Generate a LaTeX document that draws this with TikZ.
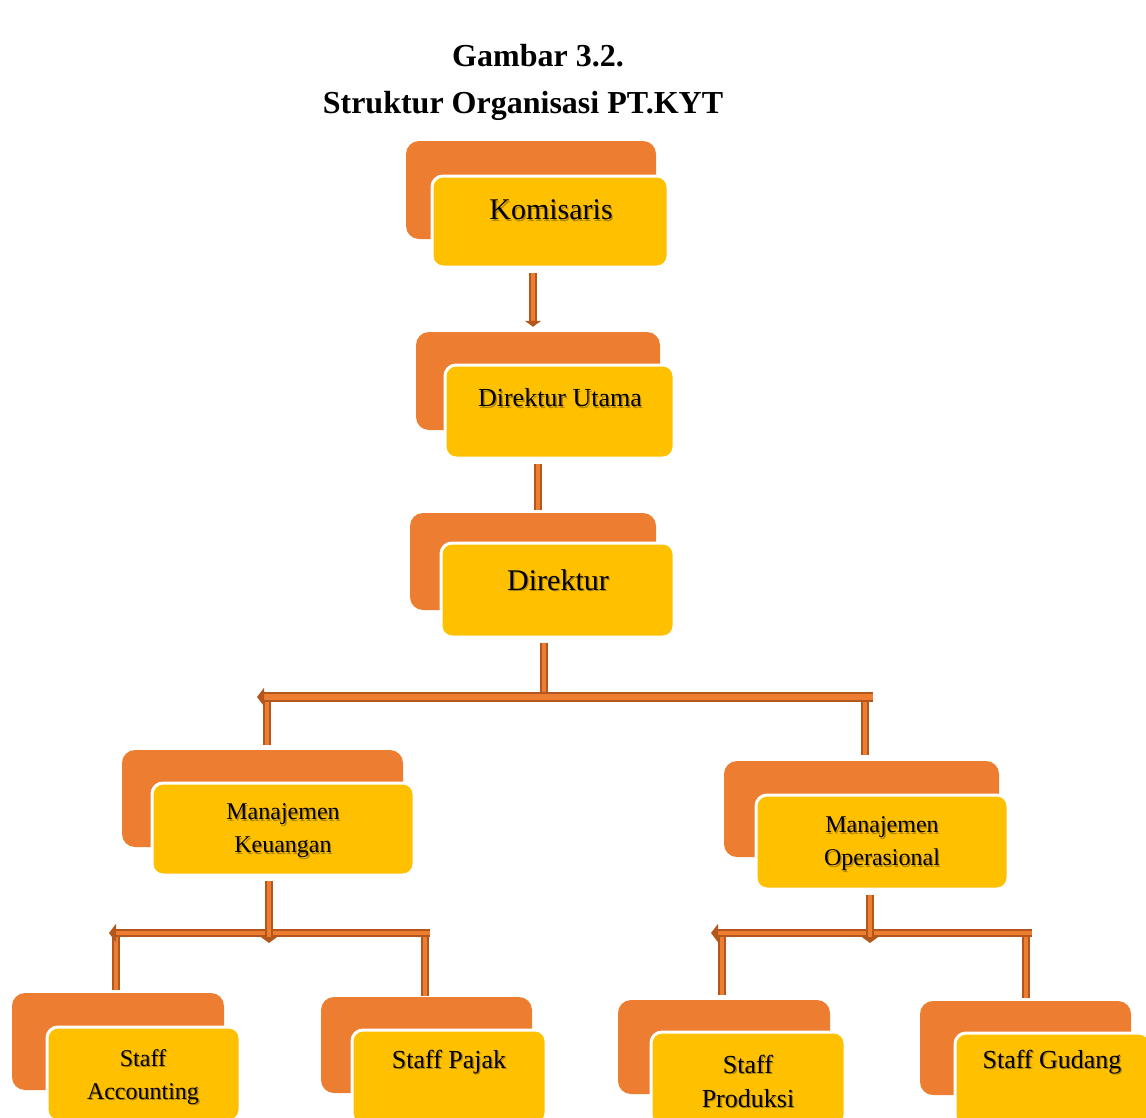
\documentclass[tikz,border=0pt]{standalone}
\usepackage{fontspec}
\setmainfont{Liberation Serif}
\usetikzlibrary{arrows.meta,calc}
\definecolor{backor}{HTML}{ED7D31}
\definecolor{frontyl}{HTML}{FFC000}
\definecolor{conndark}{HTML}{B3571D}
\definecolor{connfill}{HTML}{ED7D31}
\tikzset{
  backbox/.style={rectangle, rounded corners=13pt, fill=backor, draw=none, inner sep=0pt},
  frontbox/.style={rectangle, rounded corners=11pt, fill=frontyl, draw=white, line width=3pt, inner sep=0pt},
  lbl/.style={align=center, inner sep=0pt, text=black},
  shd/.style={align=center, inner sep=0pt, text=black, opacity=0.3},
  conn/.style={draw=conndark, line width=2pt, double=connfill, double distance=4pt},
  connthick/.style={draw=conndark, line width=2.3pt, double=connfill, double distance=5.4pt},
  tip/.style={-{Triangle[length=6pt,width=16pt]}},
  ltip/.style={-{Triangle[length=7pt,width=18pt]}},
  bigf/.style={font=\fontsize{30}{34}\selectfont},
  midf/.style={font=\fontsize{26}{34}\selectfont},
  smf/.style={font=\fontsize{24}{33}\selectfont},
  titlef/.style={font=\bfseries\fontsize{32}{36}\selectfont}
}
\newcommand{\shlabel}[4]{%
  \node[shd, #2] (#1s) at ($(#3)+(1.3,1.3)$) {#4};
  \node[lbl, #2] (#1) at (#3) {#4};}
\begin{document}
\begin{tikzpicture}[x=1pt,y=-1pt]
\useasboundingbox (0,0) rectangle (1146,1117);
\clip (0,0) rectangle (1146,1117);
% titles
\node[lbl, titlef] (t1) at (538,56) {Gambar 3.2.};
\node[lbl, titlef] (t2) at (523,106) {Struktur Organisasi PT.KYT};
% Komisaris
\node[backbox, minimum width=250pt, minimum height=98pt] (kb) at (531,190) {};
\node[frontbox, minimum width=236pt, minimum height=91pt] (k) at (550,221.5) {};
\shlabel{kt}{bigf}{551,210}{Komisaris}
% Direktur Utama
\node[backbox, minimum width=244pt, minimum height=98pt] (dub) at (538,381) {};
\node[frontbox, minimum width=229pt, minimum height=93pt] (du) at (559.5,411.5) {};
\shlabel{dut}{midf}{560,398}{Direktur Utama}
% Direktur
\node[backbox, minimum width=246pt, minimum height=97pt] (db) at (533,561.5) {};
\node[frontbox, minimum width=233pt, minimum height=94pt] (d) at (557.5,590) {};
\shlabel{dt}{bigf}{558,580}{Direktur}
% Manajemen Keuangan
\node[backbox, minimum width=281pt, minimum height=97pt] (mkb) at (262.5,798.5) {};
\node[frontbox, minimum width=262pt, minimum height=92pt] (mk) at (283,829) {};
\shlabel{mkt}{smf}{283,831}{Manajemen\\Keuangan}
% Manajemen Operasional
\node[backbox, minimum width=275pt, minimum height=96pt] (mob) at (861.5,809) {};
\node[frontbox, minimum width=252pt, minimum height=94pt] (mo) at (882,842) {};
\shlabel{mot}{smf}{882,844}{Manajemen\\Operasional}
% Staff Accounting
\node[backbox, minimum width=212pt, minimum height=97pt] (sab) at (118,1041.5) {};
\node[frontbox, minimum width=193pt, minimum height=94pt] (sa) at (143.5,1074) {};
\shlabel{sat}{smf}{143,1077}{Staff\\Accounting}
% Staff Pajak
\node[backbox, minimum width=211pt, minimum height=96pt] (spb) at (426.5,1045) {};
\node[frontbox, minimum width=194pt, minimum height=94pt] (sp) at (449,1077) {};
\shlabel{spt}{midf}{449,1062}{Staff Pajak}
% Staff Produksi
\node[backbox, minimum width=212pt, minimum height=94pt] (sprb) at (724,1047) {};
\node[frontbox, minimum width=194pt, minimum height=94pt] (spr) at (748,1079) {};
\shlabel{sprt}{midf}{748,1081}{Staff\\Produksi}
% Staff Gudang
\node[backbox, minimum width=211pt, minimum height=94pt] (sgb) at (1025.5,1048) {};
\node[frontbox, minimum width=195pt, minimum height=94pt] (sg) at (1052.5,1080) {};
\shlabel{sgt}{midf}{1052,1062}{Staff Gudang}
% bar coordinates
\coordinate (b1L) at (257,697);
\coordinate (b1M) at (544,697);
\coordinate (b1R) at (873,697);
\coordinate (b2L) at (109,933);
\coordinate (b2M) at (269,933);
\coordinate (b2R) at (430,933);
\coordinate (b3L) at (711,933);
\coordinate (b3M) at (870,933);
\coordinate (b3R) at (1032,933);
% connectors
\draw[conn, tip] ([xshift=-17pt,yshift=-4pt]k.south) -- ([xshift=-5pt,yshift=5pt]dub.north);
\draw[conn] ([xshift=-21.5pt,yshift=-4pt]du.south) -- ([xshift=5pt,yshift=3pt]db.north);
\draw[conn] ([xshift=-13.5pt,yshift=-4pt]d.south) -- (b1M);
\draw[conn] ([xshift=10pt]b1L) -- ([xshift=4.5pt,yshift=5pt]mkb.north);
\draw[conn] ([xshift=-8pt]b1R) -- ([xshift=3.5pt,yshift=6pt]mob.north);
\draw[connthick, ltip] (b1R) -- (b1L);
\draw[conn] ([xshift=7pt]b2L) -- ([xshift=-2pt,yshift=3pt]sab.north);
\draw[conn] ([xshift=-5pt]b2R) -- ([xshift=-1.5pt,yshift=1pt]spb.north);
\draw[conn, ltip] (b2R) -- (b2L);
\draw[conn, tip] ([xshift=-14pt,yshift=-4pt]mk.south) -- ([yshift=-10pt]b2M);
\draw[conn] ([xshift=11pt]b3L) -- ([xshift=-2pt,yshift=5pt]sprb.north);
\draw[conn] ([xshift=-6pt]b3R) -- ([xshift=0.5pt,yshift=3pt]sgb.north);
\draw[conn, ltip] (b3R) -- (b3L);
\draw[conn, tip] ([xshift=-12pt,yshift=-4pt]mo.south) -- ([yshift=-10pt]b3M);
\end{tikzpicture}
\end{document}
